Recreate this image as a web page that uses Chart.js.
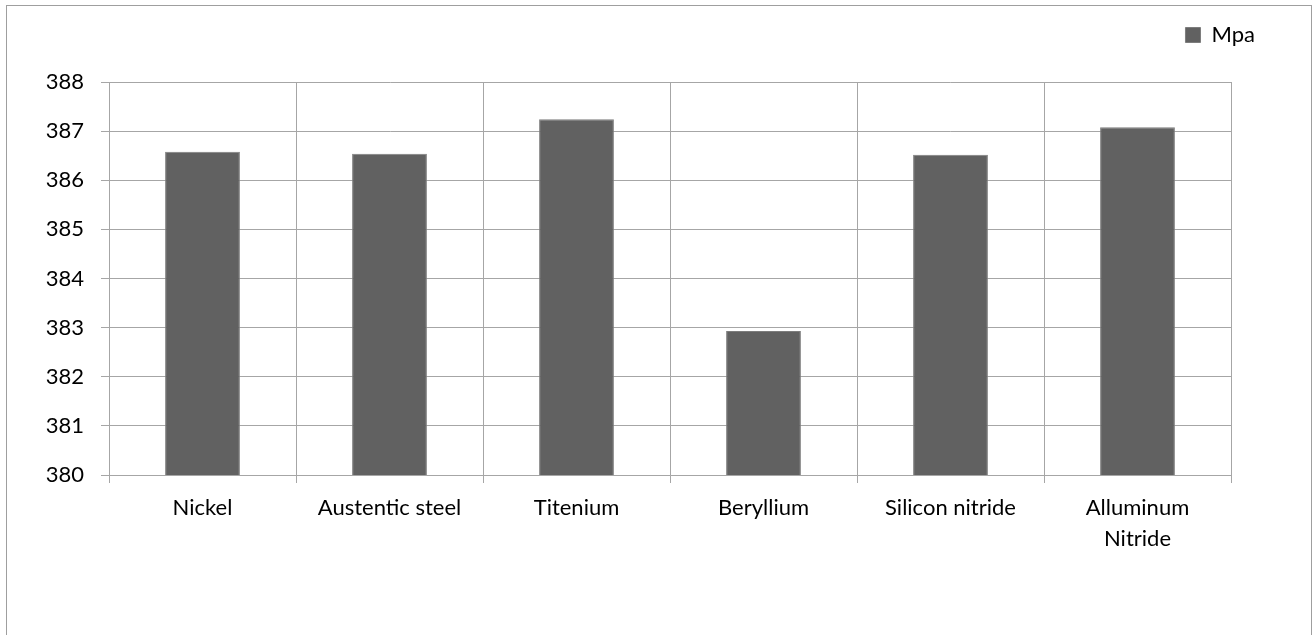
<!DOCTYPE html>
<html>
<head>
<meta charset="utf-8">
<script src="https://cdn.jsdelivr.net/npm/chart.js@4.4.1/dist/chart.umd.min.js"></script>
<style>
html,body{margin:0;padding:0;background:#fff;}
#wrap{position:absolute;left:0;top:0;width:1315px;height:635px;}
</style>
</head>
<body>
<div id="wrap"><canvas id="c" width="1315" height="635"></canvas></div>
<script>
const categories = ['Nickel', 'Austentic steel', 'Titenium', 'Beryllium', 'Silicon nitride', ['Alluminum', 'Nitride']];
const seriesName = 'Mpa';
const mpaValues = [386.58, 386.54, 387.24, 382.93, 386.52, 387.08];
const yMin = 380;
const yMax = 388;
const yStep = 1;

const FONT = 'Lato, "Open Sans", sans-serif';
const GRID = '#a6a6a6';

const framePlugin = {
  id: 'frame',
  beforeDraw(chart) {
    const ctx = chart.ctx;
    ctx.save();
    ctx.fillStyle = '#fff';
    ctx.fillRect(0, 0, chart.width, chart.height);
    ctx.strokeStyle = '#9f9f9f';
    ctx.lineWidth = 1;
    ctx.strokeRect(6.5, 5.5, 1305, 700);
    ctx.restore();
  }
};

const legendFitPlugin = {
  id: 'legendFit',
  beforeLayout(chart) {
    const lg = chart.legend;
    if (lg && !lg._patched) {
      const f = lg.fit;
      lg.fit = function () { f.call(this); this.height = 68; };
      lg._patched = true;
    }
  }
};

new Chart(document.getElementById('c'), {
  type: 'bar',
  data: {
    labels: categories,
    datasets: [{
      label: seriesName,
      data: mpaValues,
      backgroundColor: '#616161',
      borderColor: '#7d7d7d',
      borderWidth: 1,
      barPercentage: 0.4,
      categoryPercentage: 1.0
    }]
  },
  options: {
    responsive: false,
    animation: false,
    devicePixelRatio: 1,
    layout: { padding: { left: 0, right: 50, top: 14, bottom: 0 } },
    plugins: {
      tooltip: { enabled: false },
      legend: {
        display: true,
        position: 'top',
        align: 'end',
        labels: {
          boxWidth: 15,
          boxHeight: 15,
          padding: 10,
          color: '#000',
          font: { family: FONT, size: 22 }
        }
      }
    },
    scales: {
      x: {
        grid: { color: GRID, lineWidth: 1, offset: true, drawTicks: true, tickLength: 8, tickColor: GRID },
        border: { color: GRID, width: 1 },
        ticks: {
          color: '#000',
          padding: 10,
          maxRotation: 0,
          autoSkip: false,
          font: { family: FONT, size: 22, lineHeight: 1.4 }
        },
        afterFit(scale) { scale.height = 635 - 475; }
      },
      y: {
        min: yMin,
        max: yMax,
        grid: { color: GRID, lineWidth: 1, drawTicks: true, tickLength: 8, tickColor: GRID },
        border: { color: GRID, width: 1 },
        ticks: {
          stepSize: yStep,
          color: '#000',
          padding: 17,
          font: { family: FONT, size: 22 }
        },
        afterFit(scale) { scale.width = 109; }
      },
      y2: {
        position: 'right',
        display: true,
        grid: { display: false, drawTicks: false },
        border: { display: false },
        ticks: { display: false },
        afterFit(scale) { scale.width = 1265 - 1231; }
      }
    }
  },
  plugins: [framePlugin, legendFitPlugin]
});
</script>
</body>
</html>
